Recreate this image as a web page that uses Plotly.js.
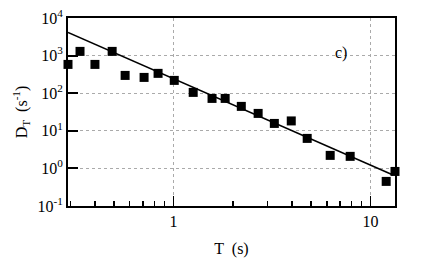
<!DOCTYPE html>
<html><head><meta charset="utf-8">
<script src="https://cdn.plot.ly/plotly-3.0.1.min.js"></script>
<style>html,body{margin:0;padding:0;background:#fff}#c{width:436px;height:262px}</style>
</head><body><div id="c"></div>
<script>
var periodT = [0.292,0.336,0.400,0.489,0.569,0.710,0.836,1.01,1.26,1.57,1.83,2.21,2.69,3.25,3.96,4.77,6.24,7.88,12.0,13.3];
var rateD = [583,1294,583,1294,297,263,337,219,105,72.7,72.7,44.6,29,15.7,18.3,6.28,2.22,2.09,0.451,0.83];
var fitT = [0.292, 13.0];
var fitD = [4160, 0.67];
var yTickVals = [0.1,1,10,100,1000,10000];
var yTickText = ['10<sup>-1</sup>','10<sup>0</sup>','10<sup>1</sup>','10<sup>2</sup>','10<sup>3</sup>','10<sup>4</sup>'];
var xTickVals = [1,10];
var xTickText = ['1','10'];
var xMinorVals = [0.3,0.4,0.5,0.6,0.7,0.8,0.9,2,3,4,5,6,7,8,9];

var font = {family:'Liberation Serif, Times New Roman, serif', size:16, color:'#000'};
var data = [
 {x:fitT, y:fitD, mode:'lines', line:{color:'#000', width:1.5}, hoverinfo:'skip'},
 {x:periodT, y:rateD, mode:'markers', marker:{symbol:'square', size:9, color:'#000'}, cliponaxis:false}
];
var layout = {
 width:436, height:262, showlegend:false,
 margin:{l:68, r:41, t:18, b:56},
 paper_bgcolor:'#fff', plot_bgcolor:'#fff', font:font,
 xaxis:{type:'log', range:[Math.log10(0.292), Math.log10(13.3)],
   tickvals:xTickVals, ticktext:xTickText, ticks:'inside', ticklen:10, tickwidth:1.5, tickcolor:'#000',
   showgrid:true, gridcolor:'#aaa', griddash:'dot', gridwidth:1,
   showline:true, linecolor:'#000', linewidth:2, mirror:true, zeroline:false,
   minor:{tickvals:xMinorVals, ticks:'inside', ticklen:5, tickwidth:1.5, tickcolor:'#000', showgrid:false},
   title:{text:'T  (s)', font:font, standoff:14}, tickfont:font},
 yaxis:{type:'log', range:[-1,4],
   tickvals:yTickVals, ticktext:yTickText, ticks:'inside', ticklen:10, tickwidth:2, tickcolor:'#000',
   showgrid:true, gridcolor:'#aaa', griddash:'dot', gridwidth:1,
   showline:true, linecolor:'#000', linewidth:2, mirror:true, zeroline:false,
   title:{text:'D<sub>T</sub>  (s<sup>-1</sup>)', font:font, standoff:6}, tickfont:font},
 annotations:[{xref:'paper', yref:'paper', x:0.86, y:0.87, text:'c)', showarrow:false, font:font}]
};
Plotly.newPlot('c', data, layout, {staticPlot:true});
</script></body></html>
